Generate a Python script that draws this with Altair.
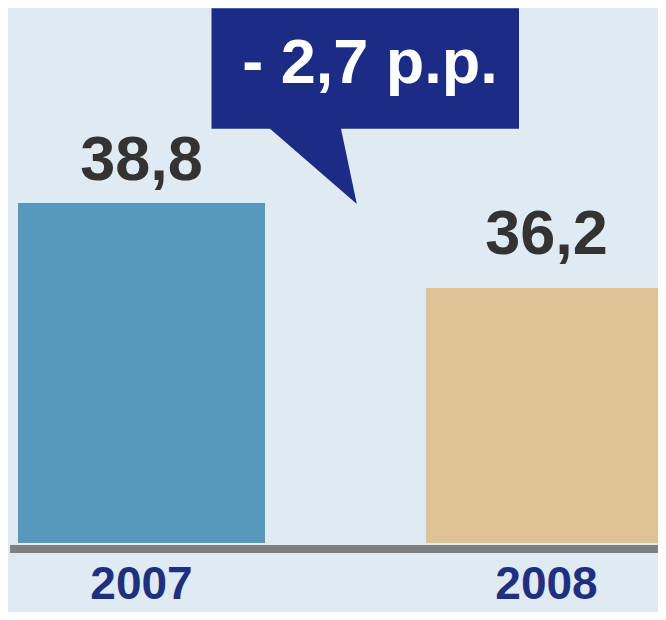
import altair as alt
import pandas as pd

YEARS = ["2007", "2008"]
VALUES = [38.8, 36.2]
VALUE_LABELS = ["38,8", "36,2"]
BAR_COLORS = ["#5699bd", "#dfc295"]
DIFF_LABEL = "- 2,7 p.p."

Y_MIN = 28.4
Y_MAX = 44.76

BG = "#dfeaf2"
NAVY = "#1c2b84"
FONT = "Liberation Sans"

df = pd.DataFrame({"year": YEARS, "value": VALUES, "label": VALUE_LABELS})
one = pd.DataFrame({"label": [DIFF_LABEL]})

xs = alt.Scale(domain=YEARS, range=[10, 665], paddingInner=0.3946, paddingOuter=0)
ys = alt.Scale(domain=[Y_MIN, Y_MAX], range=[535, 0], zero=False, nice=False)
X = alt.X("year:N", scale=xs, axis=None)
Y = alt.Y("value:Q", scale=ys, axis=None)

bars = alt.Chart(df).mark_bar().encode(
    x=X,
    y=Y,
    y2=alt.datum(Y_MIN),
    color=alt.Color("year:N", scale=alt.Scale(domain=YEARS, range=BAR_COLORS), legend=None),
)

def value_label(year, dx, dy):
    return alt.Chart(df).transform_filter(alt.datum.year == year).mark_text(
        font=FONT, fontSize=63, fontWeight="bold", color="#333333",
        baseline="alphabetic", dx=dx, dy=dy
    ).encode(x=X, y=Y, text="label:N")

def year_label(year, dx):
    return alt.Chart(df).transform_filter(alt.datum.year == year).mark_text(
        font=FONT, fontSize=46, fontWeight="bold", color="#1f3080",
        baseline="alphabetic", dx=dx
    ).encode(x=X, y=alt.value(591), text="year:N")

lab1 = value_label("2007", 0, -23)
lab2 = value_label("2008", -3, -34)
yr1 = year_label("2007", 0)
yr2 = year_label("2008", -3)

base_rule = alt.Chart(one).mark_rule(color="#808080", strokeWidth=8).encode(
    x=alt.value(2), x2=alt.value(650), y=alt.value(541)
)

box = alt.Chart(one).mark_rect(color=NAVY).encode(
    x=alt.value(203.5), x2=alt.value(511), y=alt.value(0.3), y2=alt.value(120.7)
)

tri = alt.Chart(one).mark_point(
    shape="M-0.932,-0.86 L0.596,-0.86 L0.936,0.76 Z",
    filled=True, color=NAVY, opacity=1, size=10000, strokeWidth=0
).encode(x=alt.value(302), y=alt.value(158))

diff_txt = alt.Chart(one).mark_text(
    font=FONT, fontSize=63, fontWeight="bold", color="white", baseline="alphabetic"
).encode(x=alt.value(362), y=alt.value(75), text="label:N")

chart = alt.layer(bars, base_rule, lab1, lab2, yr1, yr2, box, tri, diff_txt).properties(
    width=650, height=604, background=BG, padding=0,
    autosize=alt.AutoSizeParams(type="none")
).configure_view(stroke=None)

chart.save("out.html", embed_options={"renderer": "svg", "actions": False})
